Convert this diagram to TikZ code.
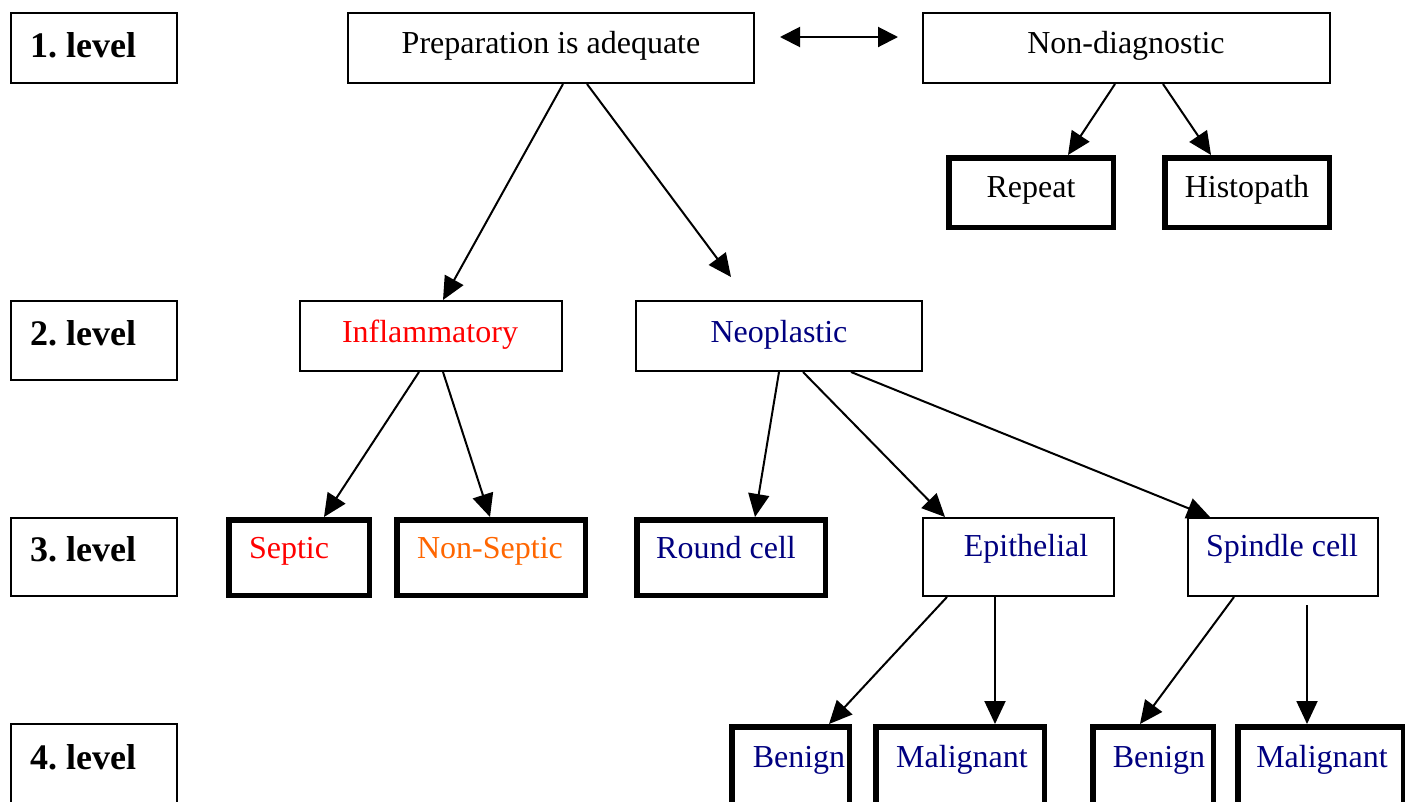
\documentclass[tikz,border=0pt]{standalone}
\usepackage{fontspec}
\setmainfont{Liberation Serif}
\usetikzlibrary{arrows.meta,calc}
\definecolor{myred}{RGB}{255,0,0}
\definecolor{myorange}{RGB}{255,102,0}
\definecolor{mynavy}{RGB}{0,0,128}
\tikzset{
  thinbox/.style={draw=black, line width=2pt, rectangle, inner sep=0pt},
  thickbox/.style={draw=black, line width=5.5pt, rectangle, inner sep=0pt},
  txt/.style={anchor=base, inner sep=0pt, font=\fontsize{32}{36}\selectfont},
  lvl/.style={anchor=base west, inner sep=0pt, font=\fontsize{36}{40}\selectfont\bfseries},
  arr/.style={line width=2pt, -{Triangle[length=23pt,width=21pt]}},
  darr/.style={line width=2pt, {Triangle[length=20pt,width=20pt]}-{Triangle[length=20pt,width=20pt]}}
}
\frenchspacing
\begin{document}
\begin{tikzpicture}[x=1pt,y=-1pt]
\useasboundingbox[fill=white] (0,0) rectangle (1405,801);
% level boxes
\node[thinbox, minimum width=166pt, minimum height=70pt] (l1) at (94,48) {};
\node[thinbox, minimum width=166pt, minimum height=79pt] (l2) at (94,340.5) {};
\node[thinbox, minimum width=166pt, minimum height=78pt] (l3) at (94,557) {};
\node[thinbox, minimum width=166pt, minimum height=92pt] (l4) at (94,770) {};
\node[lvl] (t1) at (30,57) {1. level};
\node[lvl] (t2) at (30,345) {2. level};
\node[lvl] (t3) at (30,561) {3. level};
\node[lvl] (t4) at (30,769) {4. level};
% row 1
\node[thinbox, minimum width=406pt, minimum height=70pt] (prep) at (551,48) {};
\node[txt] (tprep) at (551,53) {Preparation is adequate};
\node[thinbox, minimum width=407pt, minimum height=70pt] (nondiag) at (1126.5,48) {};
\node[txt] (tnondiag) at (1126,53) {Non-diagnostic};
\node[thickbox, minimum width=164.5pt, minimum height=69.5pt] (repeat) at (1031,192.5) {};
\node[txt] (trepeat) at (1031,197) {Repeat};
\node[thickbox, minimum width=164.5pt, minimum height=69.5pt] (histo) at (1247,192.5) {};
\node[txt] (thisto) at (1247,197) {Histopath};
% row 2
\node[thinbox, minimum width=262pt, minimum height=70pt] (inflam) at (431,336) {};
\node[txt, text=myred] (tinflam) at (430,342) {Inflammatory};
\node[thinbox, minimum width=286pt, minimum height=70pt] (neo) at (779,336) {};
\node[txt, text=mynavy] (tneo) at (779,342) {Neoplastic};
% row 3
\node[thickbox, minimum width=140.5pt, minimum height=75.5pt] (septic) at (299,557.5) {};
\node[txt, text=myred] (tseptic) at (289,558) {Septic};
\node[thickbox, minimum width=188.5pt, minimum height=75.5pt] (nonseptic) at (491,557.5) {};
\node[txt, text=myorange] (tnonseptic) at (490,558) {Non-Septic};
\node[thickbox, minimum width=188.5pt, minimum height=75.5pt] (round) at (731,557.5) {};
\node[txt, text=mynavy] (tround) at (726,558) {Round cell};
\node[thinbox, minimum width=191pt, minimum height=78pt] (epi) at (1018.5,557) {};
\node[txt, text=mynavy] (tepi) at (1026,556) {Epithelial};
\node[thinbox, minimum width=190pt, minimum height=78pt] (spindle) at (1283,557) {};
\node[txt, text=mynavy] (tspindle) at (1282,556) {Spindle cell};
% row 4
\node[thickbox, minimum width=117.5pt, minimum height=100pt] (ben1) at (790.5,776.75) {};
\node[txt, text=mynavy] (tben1) at (799,767) {Benign};
\node[thickbox, minimum width=168.5pt, minimum height=100pt] (mal1) at (960,776.75) {};
\node[txt, text=mynavy] (tmal1) at (962,767) {Malignant};
\node[thickbox, minimum width=120.5pt, minimum height=100pt] (ben2) at (1153,776.75) {};
\node[txt, text=mynavy] (tben2) at (1159,767) {Benign};
\node[thickbox, minimum width=166.25pt, minimum height=100pt] (mal2) at (1320.9,776.75) {};
\node[txt, text=mynavy] (tmal2) at (1322,767) {Malignant};
% connectors
\draw[darr] ($(prep.north east)+(25,25)$) -- ($(nondiag.north west)+(-24,25)$);
\draw[arr] ([xshift=12pt]prep.south) -- ([xshift=12pt]inflam.north);
\draw[arr] ([xshift=36pt]prep.south) -- ([xshift=-48pt,yshift=23pt]neo.north);
\draw[arr] ([xshift=-11.5pt]nondiag.south) -- ([xshift=37pt]repeat.north);
\draw[arr] ([xshift=36.5pt]nondiag.south) -- ([xshift=-36pt]histo.north);
\draw[arr] ([xshift=-12pt]inflam.south) -- ([xshift=25pt]septic.north);
\draw[arr] ([xshift=12pt]inflam.south) -- ([xshift=-1pt]nonseptic.north);
\draw[arr] (neo.south) -- ([xshift=24pt]round.north);
\draw[arr] ([xshift=24pt]neo.south) -- ([xshift=-73.5pt]epi.north);
\draw[arr] ([xshift=72pt]neo.south) -- ([xshift=-73pt]spindle.north);
\draw[arr] ([xshift=-71.5pt]epi.south) -- ([xshift=38.5pt]ben1.north);
\draw[arr] ([xshift=-23.5pt]epi.south) -- ([xshift=35pt]mal1.north);
\draw[arr] ([xshift=-49pt]spindle.south) -- ([xshift=-13pt]ben2.north);
\draw[arr] ([xshift=24pt,yshift=-8pt]spindle.south) -- ([xshift=-13.9pt]mal2.north);
\end{tikzpicture}
\end{document}
